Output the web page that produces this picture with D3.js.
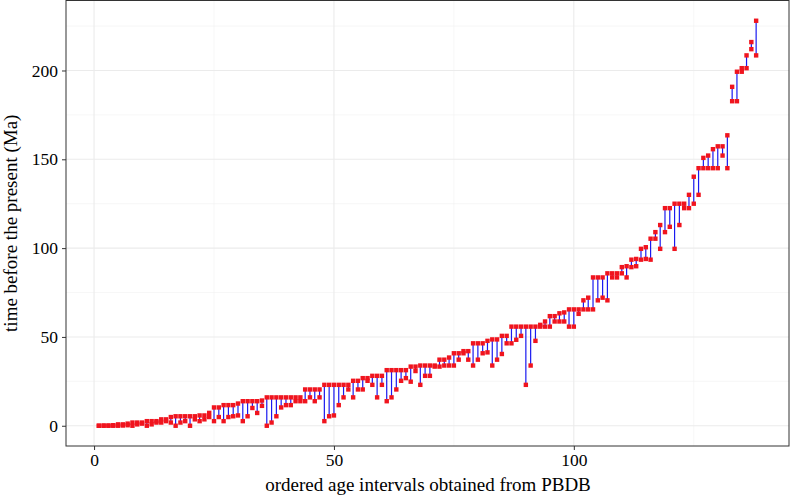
<!DOCTYPE html>
<html><head><meta charset="utf-8">
<script src="https://cdn.jsdelivr.net/npm/d3@7"></script>
<style>body{margin:0;background:#fff}svg{display:block}</style>
</head><body>
<svg id="c" width="790" height="496"></svg>
<script>
// interval index (ordered), maximum age (Ma), minimum age (Ma)
const maxAge = [0.0117,0.126,0.126,0.3,0.781,0.781,1.2,1.806,1.806,1.806,
2.588,2.588,2.588,3.6,3.6,4.9,5.333,5.333,5.333,5.333,
5.333,5.8,5.8,7.246,10.3,10.3,11.608,11.608,11.608,12.5,
13.82,13.82,13.82,13.82,14.2,15.97,15.97,15.97,15.97,15.97,
15.97,15.97,15.97,20.43,20.43,20.43,20.43,23.03,23.03,23.03,
23.03,23.03,23.03,25.3,25.3,26.8,26.8,28.1,28.1,28.1,
31.3,31.3,31.3,31.3,31.3,33.3,33.3,33.9,33.9,33.9,
33.9,37.2,37.2,38.4,40.8,40.8,42,42,46.4,46.4,
46.4,47.8,48.6,48.6,50.6,50.6,55.8,55.8,55.8,55.8,
55.8,55.8,56.8,58.7,61.7,61.7,63.3,63.8,65.5,65.5,
65.5,70.6,72.1,83.5,83.5,83.5,85.8,85.8,85.8,89.3,
89.8,93.5,93.9,99.6,100.5,105.3,109,113,122.5,122.5,
125,125,125,130,140.2,145,150.8,152.1,155.7,157.3,
157.3,163.5,190.8,199.3,201.3,208.5,216,228];
const minAge = [0,0,0.0117,0.0117,0.0117,0.126,0.3,0.0117,0.781,1.2,
0.0117,0.781,1.806,1.806,2.588,1.806,0.0117,1.806,2.588,0,
3.6,2.588,3.6,4.9,2.588,4.9,2.588,4.9,5.333,5.8,
2.588,5.333,10,7.2,11.2,0,1.806,5.333,10.3,11.608,
11.608,13.82,13.82,13.82,15.97,13.82,15.97,2.588,5.333,5.8,
11.608,15.97,20.43,15.97,20.43,20.43,25.3,23.03,15.97,23.03,
13.82,15.97,20.43,25.3,26.8,24.8,30.8,23.03,28.1,28.1,
33.3,33.3,33.9,33.9,33.9,37.2,40.8,37.2,33.9,37.2,
40.8,41.3,33.9,37.2,40.4,46.4,46.4,48.4,50.6,23.03,
33.9,47.8,55.8,55.8,55.8,58.7,58.7,58.7,55.8,55.8,
63,65.5,65.5,65.5,70.6,72.1,70.6,83.5,83.5,85.8,
83.5,89.3,89.8,93.5,93.9,93.5,105.3,99.6,109,112,
99.6,113,122.5,122.5,125,130,145,145,145,145,
152.1,145,182.7,182.7,199.3,201.3,212,208.5];
const index = maxAge.map((_, i) => i + 1);
const xTicks = [0, 50, 100];
const xMinor = [25, 75, 125];
const yTicks = [0, 50, 100, 150, 200];
const yMinor = [25, 75, 125, 175, 225];

const data = index.map((d, i) => ({i: d, hi: maxAge[i], lo: minAge[i]}));
const svg = d3.select('#c');
const L = 66, R = 789, T = 0.5, B = 446;
function expand(ext) { const p = (ext[1] - ext[0]) * 0.05; return [ext[0] - p, ext[1] + p]; }
const x = d3.scaleLinear().domain(expand(d3.extent(index))).range([L, R]);
const y = d3.scaleLinear().domain(expand([d3.min(minAge), d3.max(maxAge)])).range([B, T]);

const g = svg.append('g');
// grid
g.selectAll('.xm').data(xMinor).join('line').attr('x1', d => x(d)).attr('x2', d => x(d)).attr('y1', T).attr('y2', B).attr('stroke', '#F2F2F2').attr('stroke-width', 0.6);
g.selectAll('.ym').data(yMinor).join('line').attr('y1', d => y(d)).attr('y2', d => y(d)).attr('x1', L).attr('x2', R).attr('stroke', '#F2F2F2').attr('stroke-width', 0.6);
g.selectAll('.xg').data(xTicks).join('line').attr('x1', d => x(d)).attr('x2', d => x(d)).attr('y1', T).attr('y2', B).attr('stroke', '#EBEBEB').attr('stroke-width', 1.1);
g.selectAll('.yg').data(yTicks).join('line').attr('y1', d => y(d)).attr('y2', d => y(d)).attr('x1', L).attr('x2', R).attr('stroke', '#EBEBEB').attr('stroke-width', 1.1);

// segments
g.selectAll('.seg').data(data).join('line')
  .attr('x1', d => x(d.i)).attr('x2', d => x(d.i))
  .attr('y1', d => y(d.lo)).attr('y2', d => y(d.hi))
  .attr('stroke', '#1A1AF0').attr('stroke-width', 1.2);
// points
const pts = data.flatMap(d => [{i: d.i, v: d.hi}, {i: d.i, v: d.lo}]);
g.selectAll('.pt').data(pts).join('rect')
  .attr('x', d => x(d.i) - 2.2).attr('y', d => y(d.v) - 2.2)
  .attr('width', 4.4).attr('height', 4.4).attr('fill', '#F0141E');

// border
svg.append('rect').attr('x', L).attr('y', T).attr('width', R - L).attr('height', B - T)
  .attr('fill', 'none').attr('stroke', '#333333').attr('stroke-width', 1);

// axes
const font = '"Liberation Serif", "DejaVu Serif", serif';
const xa = svg.append('g').attr('transform', `translate(0,${B})`)
  .call(d3.axisBottom(x).tickValues(xTicks).tickSize(4).tickPadding(4).tickFormat(d3.format('d')));
const ya = svg.append('g').attr('transform', `translate(${L},0)`)
  .call(d3.axisLeft(y).tickValues(yTicks).tickSize(4).tickPadding(4).tickFormat(d3.format('d')));
[xa, ya].forEach(a => {
  a.select('.domain').remove();
  a.selectAll('line').attr('stroke', '#333333');
  a.selectAll('text').attr('fill', '#000').style('font-family', font).style('font-size', '17.5px');
});

svg.append('text').attr('x', (L + R) / 2 + 0.5).attr('y', 491).attr('text-anchor', 'middle')
  .style('font-family', font).style('font-size', '19px').text('ordered age intervals obtained from PBDB');
svg.append('text').attr('transform', `translate(17,${(T + B) / 2}) rotate(-90)`).attr('text-anchor', 'middle')
  .style('font-family', font).style('font-size', '19px').text('time before the present (Ma)');
</script>
</body></html>
